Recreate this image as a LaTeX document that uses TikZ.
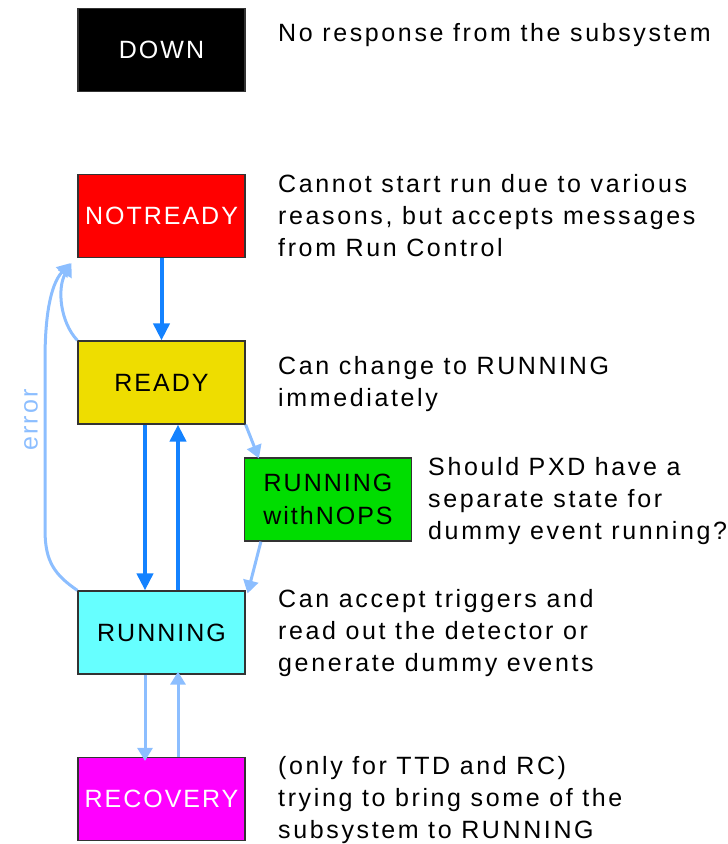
\documentclass[tikz,border=0pt]{standalone}
\usepackage{fontspec}
\setmainfont{Liberation Sans}[LetterSpace=8]
\newfontfamily\descfont{Liberation Sans}[LetterSpace=10.5]
\usetikzlibrary{arrows.meta,calc}
\definecolor{solidblue}{RGB}{20,130,255}
\definecolor{lightblue}{RGB}{140,190,255}
\definecolor{rdyyellow}{RGB}{238,221,0}
\definecolor{nopsgreen}{RGB}{0,221,0}
\definecolor{runcyan}{RGB}{102,255,255}
\definecolor{recmag}{RGB}{255,0,255}
\begin{document}
\begin{tikzpicture}[x=1pt,y=-1pt,
  state/.style={draw=black!80, line width=1.2pt, minimum width=167pt, minimum height=83pt,
    inner sep=0pt, align=center, font=\fontsize{25}{33}\selectfont},
  desc/.style={anchor=base west, inner sep=0pt, align=left, font=\descfont\fontsize{25}{32}\selectfont},
  main/.style={draw=solidblue, line width=4pt, -{Triangle[length=17pt,width=16pt]}},
  light/.style={draw=lightblue, line width=3pt, -{Triangle[length=13pt,width=15pt]}},
]
\useasboundingbox (0,0) rectangle (728,844);

% states
\node[state, fill=black, text=white] (down) at (161.5,50) {DOWN};
\node[state, fill=red, text=white] (notready) at (161.5,216) {NOTREADY};
\node[state, fill=rdyyellow] (ready) at (161.5,382.5) {READY};
\node[state, fill=nopsgreen] (nops) at (328,499.5) {RUNNING\\withNOPS};
\node[state, fill=runcyan] (running) at (161.5,632.5) {RUNNING};
\node[state, fill=recmag, text=white] (recovery) at (161.5,799) {RECOVERY};

% descriptions (anchor = baseline of last line)
\node[desc] (ddown) at (278,41) {No response from the subsystem};
\node[desc] (dnotready) at (278,256) {Cannot start run due to various\\reasons, but accepts messages\\from Run Control};
\node[desc] (dready) at (278,406) {Can change to RUNNING\\immediately};
\node[desc] (dnops) at (428,539) {Should PXD have a\\separate state for\\dummy event running?};
\node[desc] (drunning) at (278,671) {Can accept triggers and\\read out the detector or\\generate dummy events};
\node[desc] (drecovery) at (278,838) {(only for TTD and RC)\\trying to bring some of the\\subsystem to RUNNING};

% main transitions
\draw[main] (notready.south) -- (ready.north);
\draw[main] ([xshift=-16.5pt]ready.south) -- ([xshift=-16.5pt]running.north);
\draw[main] ([xshift=16.5pt]running.north) -- ([xshift=16.5pt]ready.south);

% light transitions
\draw[light] (ready.south east) -- ([xshift=15pt,yshift=-1pt]nops.north west);
\draw[light] ([xshift=17pt]nops.south west) -- ([xshift=2pt,yshift=-3pt]running.north east);
\draw[light] ([xshift=-16.5pt]running.south) -- ([xshift=-16.5pt,yshift=-4pt]recovery.north);
\draw[light] ([xshift=16.5pt]recovery.north) -- ([xshift=16.5pt,yshift=3pt]running.south);
\draw[light] (ready.north west) .. controls (60,322) and (57,288) .. ([shift={(-6,5)}]notready.south west);
\draw[light] (running.north west) .. controls (55,575) and (45,562) .. (45,530)
  -- (45,360) .. controls (45,318) and (50,285) .. ([shift={(-7,5)}]notready.south west);
\node[rotate=90, text=lightblue, inner sep=0pt, font=\fontsize{25}{25}\selectfont] (err) at (31,420) {error};
\end{tikzpicture}
\end{document}
